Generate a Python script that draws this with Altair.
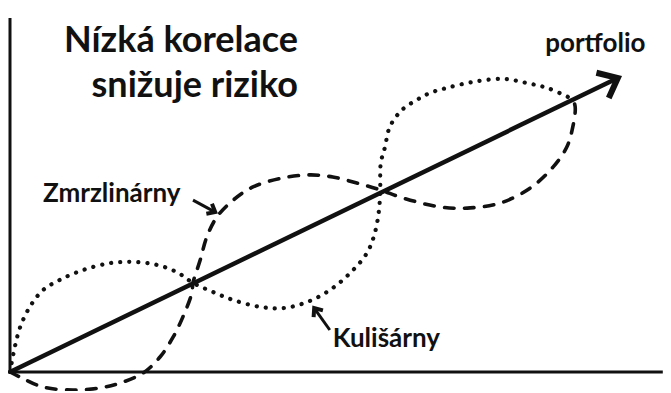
import altair as alt
import pandas as pd

# ---- data (chart units: origin at the axes corner) ----
portfolio_x = [0.0, 101.3]
portfolio_y = [0.0, 98.0]

# "Kulišárny" (dotted curve)
kul_x = [0.0, 0.8, 1.7, 3.3, 5.5, 8.3, 12.2, 16.7, 20.5, 24.5, 27.8, 30.5, 33.8, 37.2,
         41.7, 45.5, 49.5, 53.3, 56.7, 59.5, 60.8, 61.5, 61.7, 61.8, 62.5, 63.3, 65.3,
         67.8, 70.0, 72.8, 77.2, 82.2, 86.2, 89.5, 93.0, 93.7]
kul_y = [0.0, 8.3, 15.0, 21.7, 27.3, 30.7, 34.0, 36.3, 36.7, 35.7, 33.3, 29.7, 26.7, 24.0,
         21.7, 21.3, 23.3, 27.3, 33.0, 39.7, 46.3, 54.0, 60.7, 69.7, 75.0, 81.7, 87.3,
         90.7, 93.0, 94.7, 96.7, 97.7, 96.3, 94.7, 91.7, 91.0]

# "Zmrzlinárny" (dashed curve)
zmr_x = [0.0, 1.7, 5.5, 10.5, 15.0, 18.3, 22.2, 25.0, 27.2, 28.8, 30.3, 30.5, 31.7, 32.8,
         34.5, 37.2, 40.5, 45.5, 50.0, 53.8, 57.8, 61.7, 65.5, 71.7, 76.7, 81.7, 86.7,
         90.5, 92.8, 93.8, 94.2, 93.7]
zmr_y = [0.0, -1.7, -5.0, -6.0, -5.3, -3.7, -0.3, 5.0, 11.7, 18.3, 26.3, 29.7, 37.3, 45.0,
         51.7, 57.3, 61.7, 64.7, 65.7, 65.0, 63.0, 60.7, 58.0, 55.0, 54.7, 56.3, 61.3,
         68.3, 75.0, 81.7, 88.3, 91.7]

axis_x_end = 108.8
axis_y_end = 118.0

title_lines = ["Nízká korelace", "snižuje riziko"]
title_x = [48.0, 48.0]
title_y = [106.7, 91.7]

label_text = ["Zmrzlinárny", "Kulišárny", "portfolio"]
label_x = [5.5, 53.8, 89.2]
label_y = [56.7, 8.3, 106.7]

# small annotation arrows: tail -> head
arrow_x0 = [30.5, 53.3]
arrow_y0 = [57.3, 14.0]
arrow_x1 = [34.2, 50.7]
arrow_y1 = [53.3, 21.3]
arrow_angle = [29, 234]

# ---- tables ----
port_df = pd.DataFrame({"x": portfolio_x, "y": portfolio_y})
kul_df = pd.DataFrame({"x": kul_x, "y": kul_y, "i": range(len(kul_x))})
zmr_df = pd.DataFrame({"x": zmr_x, "y": zmr_y, "i": range(len(zmr_x))})
axes_df = pd.DataFrame({"x": [0.0, 0.0], "y": [0.0, 0.0],
                        "x2": [axis_x_end, 0.0], "y2": [0.0, axis_y_end]})
title_df = pd.DataFrame({"x": title_x, "y": title_y, "t": title_lines})
label_df = pd.DataFrame({"x": label_x, "y": label_y, "t": label_text})
arrow_df = pd.DataFrame({"x": arrow_x0, "y": arrow_y0, "x2": arrow_x1, "y2": arrow_y1,
                         "a": arrow_angle})
head_df = pd.DataFrame({"x": [portfolio_x[1]], "y": [portfolio_y[1]]})

xs = alt.Scale(domain=[-0.3333, 108.8333], nice=False, zero=False)
ys = alt.Scale(domain=[-6.3333, 121.3333], nice=False, zero=False)
X = lambda f="x": alt.X(f"{f}:Q", scale=xs, axis=None)
Y = lambda f="y": alt.Y(f"{f}:Q", scale=ys, axis=None)

INK = "#111111"
chevron = "M -0.77 -0.64 L 0 0 L -0.77 0.64"

axes = alt.Chart(axes_df).mark_rule(color=INK, strokeWidth=3).encode(
    x=X(), y=Y(), x2="x2:Q", y2="y2:Q")

dotted = alt.Chart(kul_df).mark_line(
    color=INK, strokeWidth=4.2, strokeDash=[0.1, 9], strokeCap="round",
    interpolate="catmull-rom").encode(x=X(), y=Y(), order="i:Q")

dashed = alt.Chart(zmr_df).mark_line(
    color=INK, strokeWidth=3.6, strokeDash=[9.5, 10.5], strokeCap="round",
    interpolate="catmull-rom").encode(x=X(), y=Y(), order="i:Q")

port = alt.Chart(port_df).mark_line(color=INK, strokeWidth=4.5).encode(x=X(), y=Y())

port_head = alt.Chart(head_df).mark_point(
    shape=chevron, filled=False, color=INK, strokeWidth=6, size=1936, angle=334,
    opacity=1, strokeJoin="miter").encode(x=X(), y=Y())

arrows = alt.Chart(arrow_df).mark_rule(color=INK, strokeWidth=3).encode(
    x=X(), y=Y(), x2="x2:Q", y2="y2:Q")
arrow_heads = alt.Chart(arrow_df).mark_point(
    shape=chevron, filled=False, color=INK, strokeWidth=4, size=324, opacity=1
).encode(x=X("x2"), y=Y("y2"), angle=alt.Angle("a:Q", scale=None))

title = alt.Chart(title_df).mark_text(
    align="right", baseline="alphabetic", font="Lato", fontSize=36,
    fontWeight="bold", color=INK).encode(x=X(), y=Y(), text="t:N")

labels = alt.Chart(label_df).mark_text(
    align="left", baseline="alphabetic", font="Lato", fontSize=26,
    fontWeight="bold", color=INK).encode(x=X(), y=Y(), text="t:N")

chart = alt.layer(axes, dotted, dashed, port, port_head, arrows, arrow_heads,
                  title, labels).properties(
    width=655, height=383, padding=0,
    autosize=alt.AutoSizeParams(type="none"),
    background="white",
).configure_view(stroke=None)

chart.save("out.html", embed_options={"renderer": "svg", "actions": False})
